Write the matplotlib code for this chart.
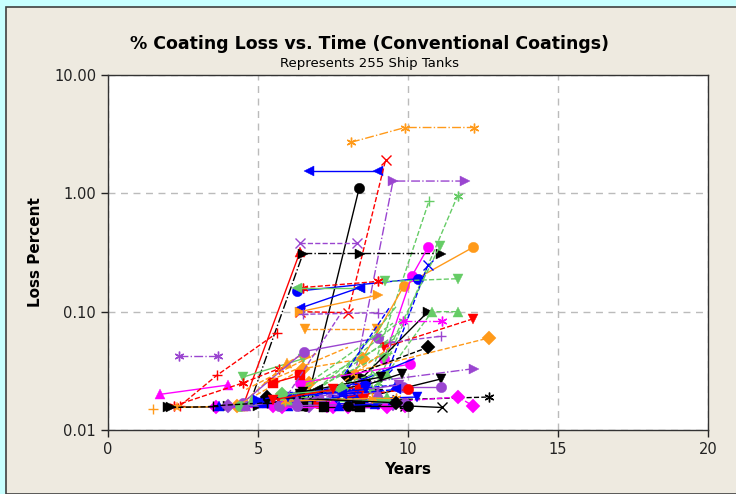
import numpy as np
import matplotlib
matplotlib.use("Agg")
import matplotlib.pyplot as plt
from matplotlib.patches import Rectangle

# colours used by the original chart
BLK = '#000000'
RED = '#FF0000'
BLU = '#0000FF'
GRN = '#66CC66'
PUR = '#9A45D0'
MAG = '#FF00FF'
ORG = '#FF9A1A'
AST = (6, 2, 0)

# ---- data: one entry per tank (years, loss percent) ----
years = [
    [8.1, 9.9, 12.2],
    [6.7, 9.0],
    [6.4, 8.0, 9.25],
    [6.6, 8.37],
    [8.1, 9.5, 11.9],
    [8.6, 10.7],
    [9.0, 11.65],
    [4.5, 6.4],
    [4.7, 6.5, 8.4, 11.1],
    [6.4, 8.3],
    [8.2, 9.87, 12.17],
    [9.2, 10.13, 10.67],
    [6.3, 10.33],
    [9.3, 10.67],
    [9.23, 11.67],
    [9.2, 11.07],
    [6.5, 9.0],
    [6.3, 8.4],
    [6.4, 8.4],
    [6.4, 9.0],
    [6.57, 8.97],
    [6.5, 9.0],
    [8.5, 10.67],
    [9.3, 10.8, 11.67],
    [9.2, 12.17],
    [9.83, 11.13],
    [9.4, 11.1],
    [6.7, 12.7],
    [8.0, 10.67],
    [6.4, 10.07],
    [8.5, 12.2],
    [9.0, 11.1],
    [9.83, 11.1],
    [9.5, 12.7],
    [9.0, 11.67, 12.17],
    [9.9, 11.13],
    [2.37, 3.67],
    [1.73, 4.0],
    [2.4, 3.63, 5.63],
    [1.5],
    [4.5, 6.5],
    [2.2, 4.5, 5.7],
    [4.4, 5.97, 6.6],
    [4.5, 6.53, 9.0],
    [4.3, 6.5, 8.5],
    [5.5, 6.4],
    # near-baseline tanks
    [2.0, 4.0, 6.5],
    [2.3, 4.4],
    [3.6, 8.0, 9.9],
    [2.1, 5.0, 7.3],
    [3.7, 6.0, 8.6],
    [4.0, 6.7, 9.5],
    [4.4, 7.0, 9.0],
    [5.0, 6.3, 8.0],
    [5.5, 7.3, 9.9],
    [6.0, 7.6, 10.3],
    [6.5, 8.3, 9.9],
    [4.8, 6.5, 8.8],
    [5.2, 7.0, 8.3],
    [6.2, 8.0, 9.6],
    [6.4, 8.6, 9.8],
    [7.0, 8.5, 10.0],
    [6.2, 9.6],
    [7.0, 9.8],
    [6.5, 9.3],
    [7.3, 10.2],
    [6.8, 8.9],
    [7.5, 9.4],
    [6.0, 7.4, 9.7],
    [5.8, 8.4],
    [4.6, 7.1],
    [3.5, 5.3, 6.8],
    [5.8, 7.5, 9.3],
    [5.7, 6.3, 9.9],
    [7.2, 8.4],
    [7.7, 8.9, 9.5],
    [6.0, 9.0, 9.3],
    [5.9, 8.8, 9.6],
    [6.4, 7.0],
    [6.0, 8.6],
    [5.3, 9.6],
    [5.0, 8.6],
    [6.5, 9.1],
    [5.8, 7.8],
    [6.3, 9.0],
    [5.5, 7.5],
    [7.8, 9.6],
    [6.6, 9.5],
    [7.2, 9.9],
    [7.8, 9.6],
    [7.9, 9.4],
    [5.2, 8.0],
    [4.6, 7.0],
    [6.0, 7.8],
    [8.0, 10.0],
]
loss = [
    [2.7, 3.6, 3.6],
    [1.55, 1.55],
    [0.10, 0.098, 1.9],
    [0.016, 1.1],
    [0.02, 1.27, 1.27],
    [0.022, 0.86],
    [0.025, 0.95],
    [0.016, 0.32],
    [0.016, 0.31, 0.31, 0.31],
    [0.38, 0.38],
    [0.03, 0.166, 0.35],
    [0.04, 0.20, 0.35],
    [0.149, 0.19],
    [0.03, 0.25],
    [0.18, 0.19],
    [0.04, 0.36],
    [0.16, 0.18],
    [0.16, 0.16],
    [0.107, 0.16],
    [0.10, 0.138],
    [0.071, 0.071],
    [0.095, 0.098],
    [0.028, 0.10],
    [0.03, 0.10, 0.10],
    [0.05, 0.087],
    [0.084, 0.084],
    [0.055, 0.062],
    [0.025, 0.06],
    [0.028, 0.05],
    [0.025, 0.036],
    [0.025, 0.033],
    [0.02, 0.027],
    [0.023, 0.023],
    [0.018, 0.019],
    [0.017, 0.019, 0.016],
    [0.016, 0.0155],
    [0.042, 0.042],
    [0.020, 0.024],
    [0.016, 0.029, 0.066],
    [0.015],
    [0.028, 0.04],
    [0.016, 0.025, 0.033],
    [0.016, 0.037, 0.045],
    [0.017, 0.046, 0.06],
    [0.016, 0.033, 0.04],
    [0.025, 0.029],
    # near-baseline tanks
    [0.0155, 0.0158, 0.020],
    [0.0155, 0.016],
    [0.0155, 0.0155, 0.016],
    [0.0155, 0.016, 0.0155],
    [0.0158, 0.016, 0.017],
    [0.016, 0.016, 0.0165],
    [0.016, 0.017, 0.018],
    [0.017, 0.0175, 0.018],
    [0.016, 0.016, 0.0165],
    [0.017, 0.018, 0.019],
    [0.016, 0.016, 0.0165],
    [0.018, 0.02, 0.022],
    [0.017, 0.018, 0.02],
    [0.019, 0.022, 0.024],
    [0.02, 0.024, 0.03],
    [0.017, 0.02, 0.022],
    [0.02, 0.06],
    [0.022, 0.07],
    [0.02, 0.045],
    [0.02, 0.04],
    [0.02, 0.03],
    [0.022, 0.05],
    [0.017, 0.02, 0.024],
    [0.019, 0.023],
    [0.016, 0.019],
    [0.016, 0.017, 0.018],
    [0.0155, 0.0155, 0.0155],
    [0.016, 0.016, 0.017],
    [0.0155, 0.0155],
    [0.016, 0.0165, 0.018],
    [0.018, 0.0185, 0.019],
    [0.0175, 0.0185, 0.0185],
    [0.021, 0.022],
    [0.019, 0.022],
    [0.019, 0.017],
    [0.018, 0.025],
    [0.021, 0.028],
    [0.02, 0.022],
    [0.018, 0.021],
    [0.018, 0.022],
    [0.02, 0.022],
    [0.024, 0.08],
    [0.025, 0.09],
    [0.03, 0.11],
    [0.03, 0.11],
    [0.025, 0.05],
    [0.022, 0.045],
    [0.02, 0.1],
    [0.016, 0.016],
]
styles = [
    (ORG, AST, '-.'), (BLU, '<', '-'), (RED, 'x', '--'), (BLK, 'o', '-'),
    (PUR, '>', '-.'), (GRN, '+', '--'), (GRN, AST, '--'), (RED, '^', '-'),
    (BLK, '>', '-.'), (PUR, 'x', '--'), (ORG, 'o', '-'), (MAG, 'o', '-'),
    (BLU, 'o', '-'), (BLU, 'x', '--'), (GRN, 'v', '--'), (GRN, 'v', '--'),
    (RED, AST, '--'), (GRN, '<', '-'), (BLU, '<', '-'), (ORG, '>', '-'),
    (ORG, 'v', '--'), (PUR, '+', '--'), (BLK, '>', '-'), (GRN, '^', '--'),
    (RED, 'v', '--'), (MAG, AST, '-.'), (PUR, '+', '--'), (ORG, 'D', '--'),
    (BLK, 'D', '--'), (MAG, 'o', '-'), (PUR, '>', '-.'), (BLK, 'v', '-'),
    (PUR, 'o', '-'), (BLK, AST, '--'), (MAG, 'D', '--'), (BLK, 'x', '-'),
    (PUR, AST, '-.'), (MAG, '^', '-'), (RED, '+', '--'), (ORG, '+', '-'),
    (GRN, 'v', '-'), (RED, AST, '--'), (ORG, '^', '--'), (PUR, 'o', '-'),
    (ORG, 'D', '--'), (RED, 's', '-'),
    (BLK, '>', '-'), (ORG, '*', '-'), (MAG, 'D', '-'), (BLK, '>', '--'),
    (BLU, '^', '-'), (PUR, 'D', '-'), (GRN, 'o', '-'), (BLU, '<', '-'),
    (MAG, 'D', '--'), (BLU, 'v', '-'), (BLK, 's', '-'), (GRN, '^', '--'),
    (BLU, 's', '-'), (BLU, '^', '--'), (BLK, 'v', '-'), (RED, 'o', '-.'),
    (GRN, None, '--'), (GRN, None, '--'), (GRN, '+', '--'), (BLU, None, '-'),
    (GRN, 'x', '--'), (ORG, None, '--'), (PUR, 'v', '-'), (RED, '>', '--'),
    (PUR, '^', '-'), (BLK, '+', '--'),
    (MAG, 'D', '-'), (PUR, 'o', '-'), (BLK, 's', '-'), (BLU, '^', '-'),
    (GRN, '^', '--'), (ORG, AST, '-'), (BLK, '<', '-'), (BLU, 'v', '-'),
    (BLK, 'D', '-'), (BLU, '>', '--'), (BLK, 'v', '-'), (GRN, 'D', '-'),
    (PUR, '^', '--'), (RED, 'v', '-'), (BLU, '<', '--'),
    (GRN, None, '--'), (GRN, None, '--'), (GRN, None, '--'), (BLU, None, '--'),
    (ORG, None, '--'), (ORG, None, '--'), (PUR, None, '--'), (BLK, 'o', '-'),
]

fig = plt.figure(figsize=(7.36, 4.94), dpi=100)
fig.patch.set_facecolor('#C8FFFF')
# beige panel with dark border on left/top
fig.patches.append(Rectangle((6 / 736, 0), 1, 1 - 7 / 494, transform=fig.transFigure,
                             facecolor='#EEEAE0', edgecolor='#404040', lw=1.2, zorder=-10))

ax = fig.add_axes([108 / 736, 1 - 430 / 494, 600 / 736, 355 / 494])
ax.set_facecolor('white')

for xs, ys, (c, m, ls) in zip(years, loss, styles):
    thin = m in ('+', 'x', AST)
    ax.plot(xs, ys, color=c, marker=m, linestyle=ls, lw=1.0,
            markersize=7 if thin else 7.5,
            markeredgewidth=1.0 if thin else 0.3, clip_on=True)

ax.set_yscale('log')
ax.set_xlim(0, 20)
ax.set_ylim(0.01, 10)
ax.set_xticks([0, 5, 10, 15, 20])
ax.set_yticks([0.01, 0.1, 1, 10])
ax.set_yticklabels(['0.01', '0.10', '1.00', '10.00'])
ax.yaxis.set_minor_locator(matplotlib.ticker.NullLocator())
ax.tick_params(axis='both', direction='out', length=5, width=1, labelsize=10.5,
               colors='#222222')
for s in ax.spines.values():
    s.set_linewidth(1.0)
    s.set_color('#333333')
ax.grid(True, which='major', color='#BBBBBB', linestyle=(0, (5, 4)), lw=1.0)
ax.set_axisbelow(True)

ax.set_xlabel('Years', fontsize=11, fontweight='bold', labelpad=4)
ax.set_ylabel('Loss Percent', fontsize=11, fontweight='bold', labelpad=8)

fig.text(370 / 736, 1 - 44 / 494, '% Coating Loss vs. Time (Conventional Coatings)',
         ha='center', va='center', fontsize=12.5, fontweight='bold')
fig.text(370 / 736, 1 - 64 / 494, 'Represents 255 Ship Tanks',
         ha='center', va='center', fontsize=9.5)

fig.savefig('out.png', dpi=100, facecolor=fig.get_facecolor())
